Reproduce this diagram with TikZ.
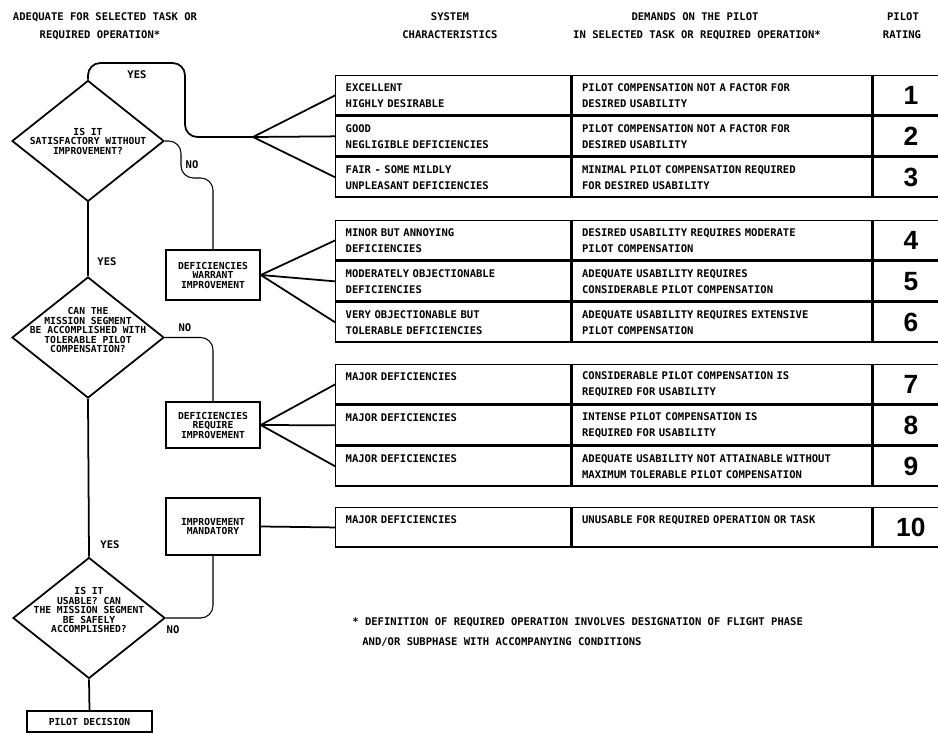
\documentclass[tikz,border=0pt]{standalone}
\usepackage{fontspec}
\usetikzlibrary{positioning, shapes.geometric}
\newfontfamily\chartfont{DejaVu Sans Mono}
\newfontfamily\ratefont{Liberation Sans}
\newcommand{\chartsize}{\chartfont\bfseries\fontsize{6.0}{9.1}\selectfont}
\newcommand{\qsize}{\chartfont\bfseries\fontsize{5.5}{5.4}\selectfont}

\begin{document}
\begin{tikzpicture}[
  x=0.02cm, y=-0.02cm,
  node distance=0pt,
  dia/.style={draw, diamond, minimum width=3.04cm, minimum height=2.42cm,
              inner sep=0pt, line width=1pt},
  qtext/.style={font=\qsize, align=center, inner sep=0pt},
  dbox/.style={draw, line width=0.9pt, minimum width=1.88cm, font=\qsize, align=center},
  cell/.style={draw, line width=0.8pt, minimum height=0.79cm, inner xsep=0.2cm,
               inner ysep=0pt, align=left, font=\chartsize},
  sys/.style={cell, text width=4.3cm},
  dem/.style={cell, text width=5.6cm},
  rat/.style={draw, line width=0.8pt, minimum height=0.79cm, minimum width=1.5cm,
              inner sep=0pt, font=\ratefont\bfseries\fontsize{15}{15}\selectfont},
  tag/.style={font=\chartsize, inner sep=0pt},
  yes/.style={line width=1pt, rounded corners=7pt},
  no/.style={line width=0.6pt, rounded corners=7pt},
  fan/.style={line width=1pt}
]
\useasboundingbox (0,0) rectangle (938,733);

% column heads
\node[tag] (h1a) at (105,17) {ADEQUATE FOR SELECTED TASK OR};
\node[tag] (h1b) at (100,35) {REQUIRED OPERATION*};
\node[tag] (h2a) at (450,17) {SYSTEM};
\node[tag] (h2b) at (450,35) {CHARACTERISTICS};
\node[tag] (h3a) at (695,17) {DEMANDS ON THE PILOT};
\node[tag] (h3b) at (697,35) {IN SELECTED TASK OR REQUIRED OPERATION*};
\node[tag] (h4a) at (903,17) {PILOT};
\node[tag] (h4b) at (902,35) {RATING};

% decision chain
\node[dia] (q1) at (88,141) {};
\node[qtext] (q1t) at (q1) {IS IT\\SATISFACTORY WITHOUT\\IMPROVEMENT?};
\node[dia] (q2) at (88,337.5) {};
\node[qtext] (q2t) at (88,330) {CAN THE\\MISSION SEGMENT\\BE ACCOMPLISHED WITH\\TOLERABLE PILOT\\COMPENSATION?};
\node[dia] (q3) at (89,618) {};
\node[qtext] (q3t) at (89,610) {IS IT\\USABLE? CAN\\THE MISSION SEGMENT\\BE SAFELY\\ACCOMPLISHED?};
\node[dbox, minimum width=2.5cm, minimum height=0.42cm] (pd) at (89.5,721.5) {PILOT DECISION};

\node[dbox, minimum height=1cm] (w1) at (213,275) {DEFICIENCIES\\WARRANT\\IMPROVEMENT};
\node[dbox, minimum height=0.92cm] (w2) at (213,425) {DEFICIENCIES\\REQUIRE\\IMPROVEMENT};
\node[dbox, minimum height=1.14cm] (w3) at (213,526.5) {IMPROVEMENT\\MANDATORY};

% rating table, four blocks
\node[sys, anchor=north west] (s1) at (335,75) {EXCELLENT\\HIGHLY DESIRABLE};
\node[dem, right=of s1] (d1) {PILOT COMPENSATION NOT A FACTOR FOR\\DESIRED USABILITY};
\node[rat, right=of d1] (r1) {1};
\node[sys, below=of s1] (s2) {GOOD\\NEGLIGIBLE DEFICIENCIES};
\node[dem, right=of s2] (d2) {PILOT COMPENSATION NOT A FACTOR FOR\\DESIRED USABILITY};
\node[rat, right=of d2] (r2) {2};
\node[sys, below=of s2] (s3) {FAIR - SOME MILDLY\\UNPLEASANT DEFICIENCIES};
\node[dem, right=of s3] (d3) {MINIMAL PILOT COMPENSATION REQUIRED\\FOR DESIRED USABILITY};
\node[rat, right=of d3] (r3) {3};

\node[sys, anchor=north west] (s4) at (335,220) {MINOR BUT ANNOYING\\DEFICIENCIES};
\node[dem, right=of s4] (d4) {DESIRED USABILITY REQUIRES MODERATE\\PILOT COMPENSATION};
\node[rat, right=of d4] (r4) {4};
\node[sys, below=of s4] (s5) {MODERATELY OBJECTIONABLE\\DEFICIENCIES};
\node[dem, right=of s5] (d5) {ADEQUATE USABILITY REQUIRES\\CONSIDERABLE PILOT COMPENSATION};
\node[rat, right=of d5] (r5) {5};
\node[sys, below=of s5] (s6) {VERY OBJECTIONABLE BUT\\TOLERABLE DEFICIENCIES};
\node[dem, right=of s6] (d6) {ADEQUATE USABILITY REQUIRES EXTENSIVE\\PILOT COMPENSATION};
\node[rat, right=of d6] (r6) {6};

% empty second line keeps the single-line entries on the upper text line
\node[sys, anchor=north west] (s7) at (335,364) {MAJOR DEFICIENCIES\\\mbox{}};
\node[dem, right=of s7] (d7) {CONSIDERABLE PILOT COMPENSATION IS\\REQUIRED FOR USABILITY};
\node[rat, right=of d7] (r7) {7};
\node[sys, below=of s7] (s8) {MAJOR DEFICIENCIES\\\mbox{}};
\node[dem, right=of s8] (d8) {INTENSE PILOT COMPENSATION IS\\REQUIRED FOR USABILITY};
\node[rat, right=of d8] (r8) {8};
\node[sys, below=of s8] (s9) {MAJOR DEFICIENCIES\\\mbox{}};
\node[dem, right=of s9] (d9) {ADEQUATE USABILITY NOT ATTAINABLE WITHOUT\\MAXIMUM TOLERABLE PILOT COMPENSATION};
\node[rat, right=of d9] (r9) {9};

\node[sys, anchor=north west] (s10) at (335,507) {MAJOR DEFICIENCIES\\\mbox{}};
\node[dem, right=of s10] (d10) {UNUSABLE FOR REQUIRED OPERATION OR TASK\\\mbox{}};
\node[rat, right=of d10] (r10) {10};

% connectors
\coordinate (fan1) at (253,137);
\draw[yes] (q1.north) |- (185,63) |- (fan1);
\draw[fan] (fan1) -- (s1.west);
\draw[fan] (fan1) -- (s2.west);
\draw[fan] (fan1) -- (s3.west);
\draw[no] (q1.east) -| (181,178) -| (w1.north);
\draw[yes] (q1.south) -- (q2.north);
\draw[fan] (w1.east) -- (s4.west);
\draw[fan] (w1.east) -- (s5.west);
\draw[fan] (w1.east) -- (s6.west);
\draw[no] (q2.east) -| (w2.north);
\draw[yes] (q2.south) -- (q3.north);
\draw[fan] (w2.east) -- (s7.west);
\draw[fan] (w2.east) -- (s8.west);
\draw[fan] (w2.east) -- (s9.west);
\draw[no] (q3.east) -| (w3.south);
\draw[fan] (w3.east) -- (s10.west);
\draw[yes] (q3.south) -- (pd.north);

\node[tag] (y1) at (137,75) {YES};
\node[tag] (n1) at (192,165) {NO};
\node[tag] (y2) at (107,262) {YES};
\node[tag] (n2) at (185,328) {NO};
\node[tag] (y3) at (110,545) {YES};
\node[tag] (n3) at (173,630) {NO};

\node[tag, anchor=west] (fn1) at (352,622) {* DEFINITION OF REQUIRED OPERATION INVOLVES DESIGNATION OF FLIGHT PHASE};
\node[tag, anchor=west] (fn2) at (362,642) {AND/OR SUBPHASE WITH ACCOMPANYING CONDITIONS};
\end{tikzpicture}
\end{document}
